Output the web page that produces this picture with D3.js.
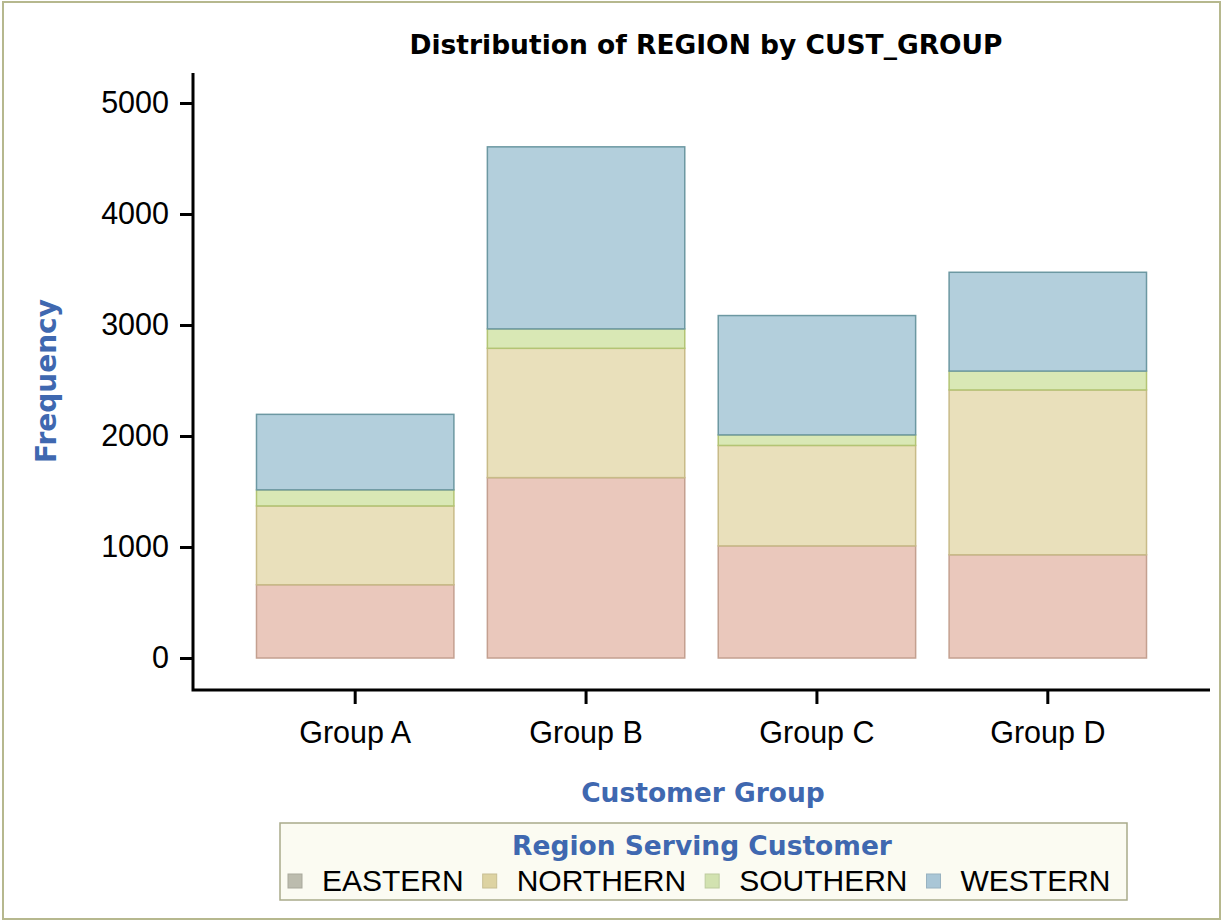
<!DOCTYPE html>
<html>
<head>
<meta charset="utf-8">
<script src="https://cdn.jsdelivr.net/npm/d3@7"></script>
<style>
  body { margin: 0; background: #fff; }
  svg { display: block; }
</style>
</head>
<body>
<div id="chart"></div>
<script>
const groups = ["Group A", "Group B", "Group C", "Group D"];
const regions = ["EASTERN", "NORTHERN", "SOUTHERN", "WESTERN"];
const eastern = [660, 1625, 1010, 930];
const northern = [710, 1165, 905, 1485];
const southern = [145, 175, 95, 170];
const western = [680, 1640, 1075, 890];
const yTicks = [0, 1000, 2000, 3000, 4000, 5000];

const fills = ["#eac8bc", "#e9e0bb", "#d9e8b5", "#b3cfdc"];
const strokes = ["#c4a090", "#c8bb88", "#b3c474", "#6c98a2"];
const swatchFills = ["#bcbcae", "#ddd3a2", "#d2e2b0", "#a9c6d6"];

const width = 1222, height = 921;
const left = 193, right = 1210, axisTop = 73, axisY = 690;
const labelBlue = "#3f68b0";
const tickFont = 30.5;

const rows = groups.map((g, i) => ({
  group: g,
  EASTERN: eastern[i],
  NORTHERN: northern[i],
  SOUTHERN: southern[i],
  WESTERN: western[i]
}));

const svg = d3.select("#chart")
  .append("svg")
  .attr("width", width)
  .attr("height", height);

// outer frame
svg.append("rect")
  .attr("x", 3).attr("y", 2)
  .attr("width", width - 5).attr("height", height - 4)
  .attr("fill", "#fff")
  .attr("stroke", "#b6b88e")
  .attr("stroke-width", 2);

const x = d3.scaleBand()
  .domain(groups)
  .range([left, right])
  .paddingInner(0.145)
  .paddingOuter(0.275);

const y = d3.scaleLinear()
  .domain([0, 5000])
  .range([658, 103]);

const stacked = d3.stack().keys(regions)(rows);

svg.append("g")
  .selectAll("g")
  .data(stacked)
  .enter()
  .append("g")
  .attr("fill", (d, i) => fills[i])
  .attr("stroke", (d, i) => strokes[i])
  .selectAll("rect")
  .data(d => d)
  .enter()
  .append("rect")
  .attr("x", d => x(d.data.group))
  .attr("y", d => y(d[1]))
  .attr("width", x.bandwidth())
  .attr("height", d => y(d[0]) - y(d[1]))
  .attr("stroke-width", 1.5);

// axes
const yAxis = d3.axisLeft(y)
  .tickValues(yTicks)
  .tickFormat(d3.format("d"))
  .tickSize(13)
  .tickPadding(11)
  .tickSizeOuter(0);
const gy = svg.append("g")
  .attr("transform", `translate(${left},0)`)
  .call(yAxis);
gy.select(".domain").remove();
gy.selectAll("line").attr("stroke", "#000").attr("stroke-width", 3);
gy.selectAll("text")
  .attr("font-family", "Liberation Sans, Arial, sans-serif")
  .attr("font-size", tickFont)
  .attr("fill", "#000");

const xAxis = d3.axisBottom(x).tickSize(14).tickPadding(17).tickSizeOuter(0);
const gx = svg.append("g")
  .attr("transform", `translate(0,${axisY})`)
  .call(xAxis);
gx.select(".domain").remove();
gx.selectAll("line").attr("stroke", "#000").attr("stroke-width", 3);
gx.selectAll("text")
  .attr("font-family", "Liberation Sans, Arial, sans-serif")
  .attr("font-size", tickFont)
  .attr("fill", "#000");

svg.append("path")
  .attr("d", `M${left},${axisTop}V${axisY}H${right}`)
  .attr("fill", "none")
  .attr("stroke", "#000")
  .attr("stroke-width", 3);

// titles
svg.append("text")
  .attr("x", 706).attr("y", 54)
  .attr("text-anchor", "middle")
  .attr("font-family", "DejaVu Sans, sans-serif")
  .attr("font-weight", "bold")
  .attr("font-size", 26.5)
  .attr("fill", "#000")
  .text("Distribution of REGION by CUST_GROUP");

svg.append("text")
  .attr("x", 703).attr("y", 802)
  .attr("text-anchor", "middle")
  .attr("font-family", "DejaVu Sans, sans-serif")
  .attr("font-weight", "bold")
  .attr("font-size", 26.5)
  .attr("fill", labelBlue)
  .text("Customer Group");

svg.append("text")
  .attr("transform", "translate(56,381) rotate(-90)")
  .attr("text-anchor", "middle")
  .attr("font-family", "DejaVu Sans, sans-serif")
  .attr("font-weight", "bold")
  .attr("font-size", 28)
  .attr("fill", labelBlue)
  .text("Frequency");

// legend
const legend = svg.append("g");
legend.append("rect")
  .attr("x", 280).attr("y", 823)
  .attr("width", 847).attr("height", 77)
  .attr("fill", "#fbfbf2")
  .attr("stroke", "#a9ab8a")
  .attr("stroke-width", 1.5);

legend.append("text")
  .attr("x", 702).attr("y", 855)
  .attr("text-anchor", "middle")
  .attr("font-family", "DejaVu Sans, sans-serif")
  .attr("font-weight", "bold")
  .attr("font-size", 26.5)
  .attr("fill", labelBlue)
  .text("Region Serving Customer");

let lx = 288;
regions.forEach((r, i) => {
  legend.append("rect")
    .attr("x", lx).attr("y", 874)
    .attr("width", 14).attr("height", 14)
    .attr("fill", swatchFills[i])
    .attr("stroke", d3.color(swatchFills[i]).darker(0.3))
    .attr("stroke-width", 1);
  const t = legend.append("text")
    .attr("x", lx + 34).attr("y", 891)
    .attr("font-family", "Liberation Sans, Arial, sans-serif")
    .attr("font-size", 30)
    .attr("fill", "#000")
    .text(r);
  lx += 34 + t.node().getComputedTextLength() + 19;
});
</script>
</body>
</html>
